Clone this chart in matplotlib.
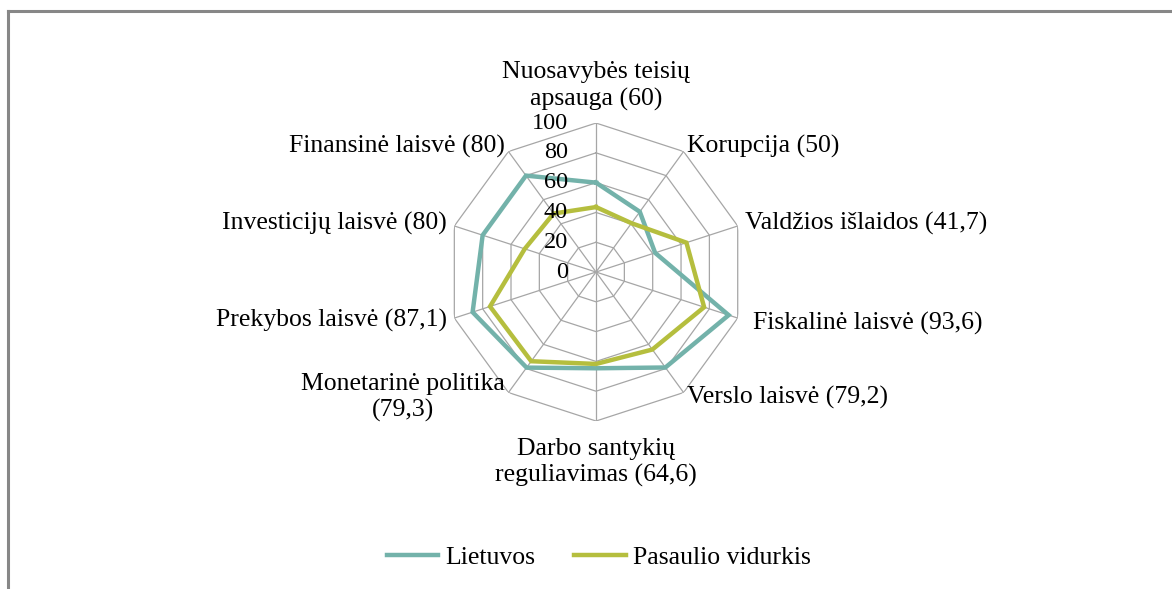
import numpy as np
import matplotlib
matplotlib.use('Agg')
import matplotlib.pyplot as plt
from matplotlib.lines import Line2D
from matplotlib.transforms import offset_copy

plt.rcParams['font.family'] = ['Liberation Serif', 'DejaVu Serif']

categories = ['Nuosavybės teisių\napsauga (60)', 'Korupcija (50)', 'Valdžios išlaidos (41,7)',
              'Fiskalinė laisvė (93,6)', 'Verslo laisvė (79,2)', 'Darbo santykių\nreguliavimas (64,6)',
              'Monetarinė politika\n(79,3)', 'Prekybos laisvė (87,1)', 'Investicijų laisvė (80)',
              'Finansinė laisvė (80)']
lietuvos = [60, 50, 41.7, 93.6, 79.2, 64.6, 79.3, 87.1, 80, 80]
pasaulio = [43.6, 40.5, 63.8, 76.3, 64.3, 61.7, 74.0, 74.8, 50.3, 48.5]
levels = [0, 20, 40, 60, 80, 100]
series_names = ['Lietuvos', 'Pasaulio vidurkis']

teal = '#73B2AA'
olive = '#B5BE3E'
grid_col = '#A6A6A6'
fs = 18.5

fig = plt.figure(figsize=(11.72, 5.89), dpi=100)
ax = fig.add_axes([0.3814, 0.2852, 0.2543, 0.5059], projection='polar')
ax.set_theta_zero_location('N')
ax.set_theta_direction(-1)
ax.set_ylim(0, 100)
ax.grid(False)
ax.spines['polar'].set_visible(False)
ax.set_xticks([])
ax.set_yticks([])
ax.patch.set_alpha(0)

n = len(categories)
angles = np.arange(n) * 2 * np.pi / n
closed = np.append(angles, angles[0])

# decagon grid and spokes
for lv in levels[1:]:
    ax.plot(closed, [lv] * (n + 1), color=grid_col, lw=0.9, zorder=1)
for a in angles:
    ax.plot([a, a], [0, 100], color=grid_col, lw=0.9, zorder=1)

ax.plot(closed, lietuvos + lietuvos[:1], color=teal, lw=3.2, zorder=3, solid_joinstyle='miter')
ax.plot(closed, pasaulio + pasaulio[:1], color=olive, lw=3.2, zorder=4, solid_joinstyle='miter')

# radial tick labels
tick_tr = offset_copy(ax.transData, fig=fig, x=-28, y=0, units='dots')
for lv in levels:
    ax.text(0, lv, str(lv), transform=tick_tr, ha='right', va='center', fontsize=17.5, zorder=5)

# category labels
label_r = [125, 104, 105, 111, 104, 128, 104, 105, 105, 104]
for a, lab, r in zip(angles, categories, label_r):
    s = np.sin(a)
    if abs(s) < 0.01:
        ha = 'center'
    elif s > 0:
        ha = 'left'
    else:
        ha = 'right'
    ax.text(a, r, lab, ha=ha, va='center', multialignment='center', fontsize=fs,
            linespacing=1.25)

handles = [Line2D([], [], color=teal, lw=3.2), Line2D([], [], color=olive, lw=3.2)]
fig.legend(handles, series_names, loc='center', bbox_to_anchor=(0.511, 0.054), ncol=2,
           frameon=False, fontsize=fs, handlelength=2.0, handletextpad=0.3, columnspacing=1.5)

# chart frame (cropped at right and bottom)
fig.add_artist(Line2D([8 / 1172, 1], [1 - 10.5 / 589] * 2, transform=fig.transFigure,
                      color='#878787', lw=2.2))
fig.add_artist(Line2D([8 / 1172] * 2, [0, 1 - 10.5 / 589], transform=fig.transFigure,
                      color='#878787', lw=2.2))

fig.savefig('out.png', dpi=100)
